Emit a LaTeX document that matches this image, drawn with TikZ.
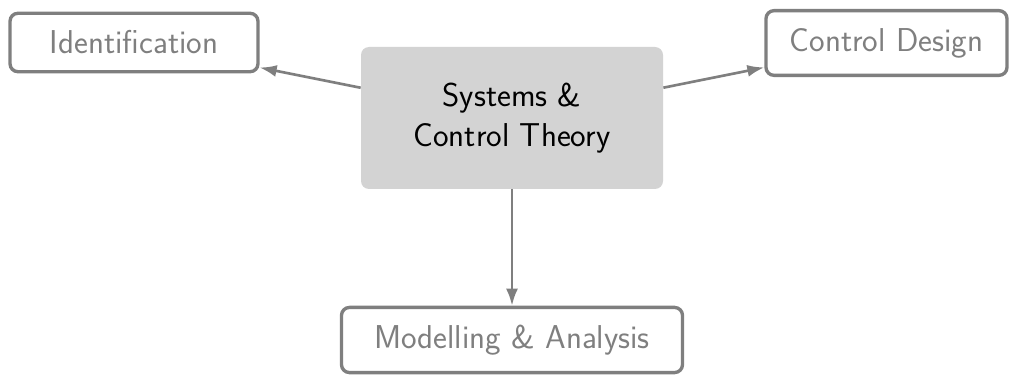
\documentclass[tikz,border=0pt]{standalone}
\usepackage{tikz}
\usetikzlibrary{arrows.meta,positioning}
\definecolor{Muted}{HTML}{7F7F7F}
\definecolor{Core}{HTML}{D3D3D3}

\begin{document}
\begin{tikzpicture}[
      topic/.style={draw=Muted,line width=1.9pt,rounded corners=0.16cm,fill=white,text=Muted,
        inner ysep=0.35cm,align=center,font=\fontsize{18.8}{23}\selectfont\sffamily},
      core/.style={fill=Core,rounded corners=0.16cm,minimum width=6.04cm,minimum height=2.84cm,
        align=center,font=\fontsize{18.8}{23}\selectfont\sffamily},
      arr/.style={-{Latex[length=3.4mm,width=2.4mm]},line width=1.5pt,draw=Muted}]
      \useasboundingbox (0,0) rectangle (20.2,7.5);
      \node[core] (sct) at (10.24,5.14) {Systems \&\\Control Theory};
      \node[topic,minimum width=4.96cm] (ident) at (2.68,6.65) {Identification};
      \node[topic,minimum width=4.82cm] (design) at (17.73,6.64) {Control Design};
      \node[topic,minimum width=6.82cm] (model) at (10.24,0.70) {Modelling \& Analysis};
      \draw[arr] (sct) -- (ident);
      \draw[arr] (sct) -- (design);
      \draw[arr] (sct) -- (model);
    \end{tikzpicture}
\end{document}
